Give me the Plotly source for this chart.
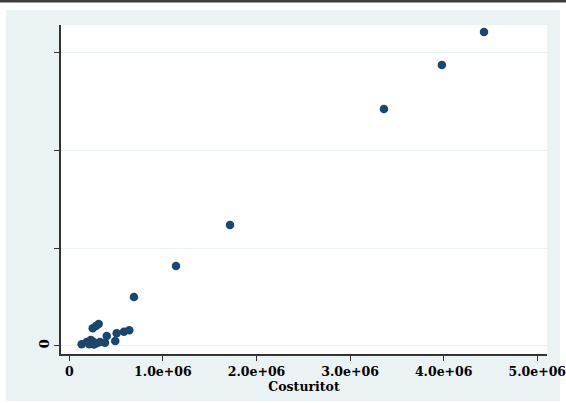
import plotly.graph_objects as go

# Total cost (x) against the outcome variable (y)
costuritot = [4.431e6, 3.981e6, 3.362e6, 1.717e6, 1.140e6, 0.691e6,
              0.314e6, 0.285e6, 0.250e6, 0.641e6, 0.584e6, 0.506e6,
              0.400e6, 0.491e6, 0.381e6, 0.132e6, 0.186e6, 0.229e6,
              0.256e6, 0.293e6, 0.214e6, 0.328e6, 0.264e6]
yvals = [3.211e6, 2.873e6, 2.423e6, 1.236e6, 0.816e6, 0.499e6,
         0.222e6, 0.202e6, 0.178e6, 0.158e6, 0.143e6, 0.127e6,
         0.099e6, 0.048e6, 0.031e6, 0.014e6, 0.038e6, 0.058e6,
         0.041e6, 0.025e6, 0.014e6, 0.038e6, 0.012e6]

x_ticks = [0, 1e6, 2e6, 3e6, 4e6, 5e6]
x_tick_text = ["0", "1.0e+06", "2.0e+06", "3.0e+06", "4.0e+06", "5.0e+06"]
y_ticks = [0, 1e6, 2e6, 3e6]
y_tick_text = ["0", "", "", ""]

W, H = 566, 403
font_main = "DejaVu Serif"

fig = go.Figure()
fig.add_trace(go.Scatter(
    x=costuritot, y=yvals, mode="markers",
    marker=dict(color="#1A476F", size=8.5, line=dict(width=0)),
    showlegend=False,
))

# Light background panel and the dark strip along the top edge
fig.add_shape(type="rect", xref="paper", yref="paper", layer="below",
              x0=(6 - 61) / 486, x1=(560 - 61) / 486,
              y0=(354 - 401) / 329, y1=(354 - 10) / 329,
              fillcolor="#EAF2F3", line=dict(width=0))
fig.add_shape(type="rect", xref="paper", yref="paper", layer="below",
              x0=(0 - 61) / 486, x1=(566 - 61) / 486,
              y0=(354 - 2.5) / 329, y1=(354 - 0) / 329,
              fillcolor="#3c3c3c", line=dict(width=0))
# White plot region
fig.add_shape(type="rect", xref="paper", yref="paper", layer="below",
              x0=0, x1=1, y0=0, y1=1,
              fillcolor="white", line=dict(width=0))

fig.update_layout(
    width=W, height=H,
    margin=dict(l=61, r=19, t=25, b=49),
    paper_bgcolor="white", plot_bgcolor="white",
    font=dict(family=font_main, color="black", size=13),
    xaxis=dict(
        range=[-0.0887e6, 5.104e6],
        automargin=False,
        tickvals=x_ticks, ticktext=x_tick_text,
        tickfont=dict(family=font_main, size=12.5, color="black", weight="bold"),
        ticklabeloverflow="allow",
        showgrid=False, zeroline=False,
        showline=True, linecolor="#333333", linewidth=1.5,
        ticks="outside", ticklen=5, tickcolor="#333333",
        title=dict(text="<b>Costuritot</b>", standoff=0,
                   font=dict(family=font_main, size=12.5, color="black")),
    ),
    yaxis=dict(
        range=[-0.085e6, 3.283e6],
        automargin=False,
        tickvals=y_ticks, ticktext=y_tick_text,
        tickangle=-90,
        tickfont=dict(family=font_main, size=13, color="black", weight="bold"),
        showgrid=True, gridcolor="#EAF2F3", gridwidth=1,
        zeroline=False,
        showline=True, linecolor="#333333", linewidth=1.5,
        ticks="outside", ticklen=5, tickcolor="#333333",
    ),
)

fig.write_html("out.html")
